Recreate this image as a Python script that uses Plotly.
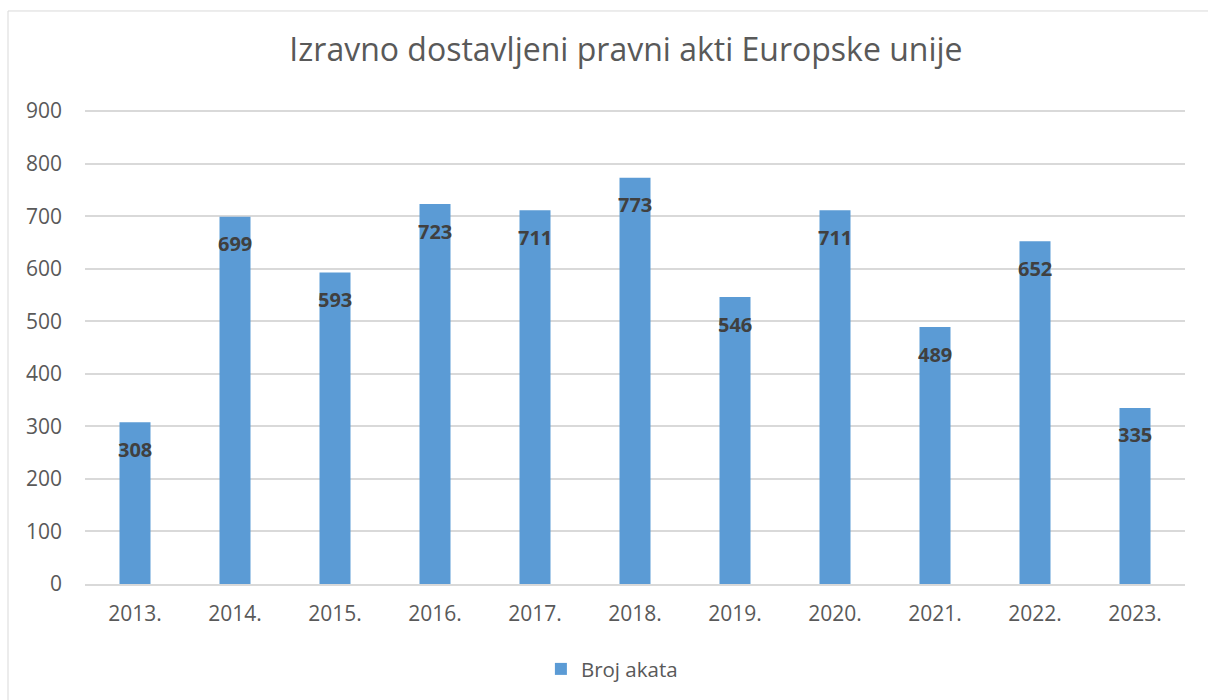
import plotly.graph_objects as go

years = ["2013.", "2014.", "2015.", "2016.", "2017.", "2018.", "2019.", "2020.", "2021.", "2022.", "2023."]
values = [308, 699, 593, 723, 711, 773, 546, 711, 489, 652, 335]
y_ticks = [0, 100, 200, 300, 400, 500, 600, 700, 800, 900]

FONT = "Open Sans"

fig = go.Figure()
fig.add_trace(go.Bar(
    x=years, y=values, name="Broj akata",
    marker=dict(color="#5B9BD5", line=dict(width=0)),
))

annotations = []
for i, v in enumerate(values):
    annotations.append(dict(
        x=i, y=v, xref="x", yref="y", text=str(v), showarrow=False,
        yshift=-27, font=dict(family=FONT, size=20, color="#404040", weight="bold"),
    ))

fig.update_layout(
    width=1208, height=700,
    margin=dict(l=85, r=23, t=110, b=115),
    paper_bgcolor="white", plot_bgcolor="white",
    title=dict(text="Izravno dostavljeni pravni akti Europske unije",
               x=0.4918, xanchor="center", xref="paper", y=0.929, yanchor="middle",
               font=dict(family=FONT, size=32, color="#595959")),
    bargap=0.69,
    showlegend=True,
    legend=dict(orientation="h", x=0.479, xanchor="center", y=-0.177, yanchor="middle",
                font=dict(family=FONT, size=20.5, color="#595959")),
    annotations=annotations,
    shapes=[dict(type="rect", xref="paper", yref="paper",
                 x0=-0.07, x1=1.06, y0=-0.3, y1=1.2089,
                 line=dict(color="#D9D9D9", width=1), fillcolor="rgba(0,0,0,0)", layer="below")],
)
fig.update_xaxes(type="category", range=[-0.5, len(years) - 0.5], showgrid=False, showline=True,
                 linecolor="#D9D9D9", linewidth=1.5, ticks="", ticklabelstandoff=10,
                 tickfont=dict(family=FONT, size=21, color="#595959"))
fig.update_yaxes(range=[0, 902], tickvals=y_ticks, showgrid=True, gridcolor="#D9D9D9", gridwidth=1.5,
                 zeroline=False, showline=False, ticks="", ticklabelstandoff=22,
                 tickfont=dict(family=FONT, size=21, color="#595959"))

fig.write_html("out.html", config={"displayModeBar": False},
               post_script="document.body.style.margin='0';")
